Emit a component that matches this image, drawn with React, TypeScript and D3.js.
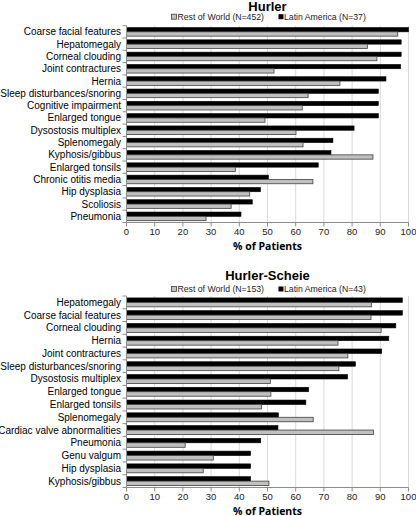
import React from 'react';
import * as d3 from 'd3';

// ---- Data ----
const hurlerCategories = [
  'Coarse facial features', 'Hepatomegaly', 'Corneal clouding', 'Joint contractures',
  'Hernia', 'Sleep disturbances/snoring', 'Cognitive impairment', 'Enlarged tongue',
  'Dysostosis multiplex', 'Splenomegaly', 'Kyphosis/gibbus', 'Enlarged tonsils',
  'Chronic otitis media', 'Hip dysplasia', 'Scoliosis', 'Pneumonia',
];
const hurlerLatinAmerica = [100, 97.4, 97.4, 97.2, 92.0, 89.3, 89.3, 89.3, 80.7, 73.2, 72.5, 68.0, 50.3, 47.5, 44.6, 40.6];
const hurlerRestOfWorld = [96.2, 85.4, 88.8, 52.3, 75.7, 64.4, 62.3, 49.1, 60.1, 62.6, 87.4, 38.6, 66.1, 43.7, 37.1, 28.2];
const hurlerLegend = ['Rest of World (N=452)', 'Latin America (N=37)'];

const hsCategories = [
  'Hepatomegaly', 'Coarse facial features', 'Corneal clouding', 'Hernia',
  'Joint contractures', 'Sleep disturbances/snoring', 'Dysostosis multiplex', 'Enlarged tongue',
  'Enlarged tonsils', 'Splenomegaly', 'Cardiac valve abnormalities', 'Pneumonia',
  'Genu valgum', 'Hip dysplasia', 'Kyphosis/gibbus',
];
const hsLatinAmerica = [97.8, 97.8, 95.5, 93.0, 90.5, 81.2, 78.4, 64.6, 63.6, 53.9, 53.7, 47.6, 44.0, 44.0, 44.0];
const hsRestOfWorld = [86.9, 86.7, 90.3, 75.0, 78.5, 75.3, 51.0, 51.2, 47.9, 66.2, 87.6, 20.8, 30.8, 27.2, 50.5];
const hsLegend = ['Rest of World (N=153)', 'Latin America (N=43)'];

const xTicks = [0, 10, 20, 30, 40, 50, 60, 70, 80, 90, 100];
const seriesKeys = ['la', 'row'];
const axisTitle = '% of Patients';

const FONT = '"Liberation Sans", Arial, sans-serif';

type PanelProps = {
  title: string;
  categories: string[];
  la: number[];
  row: number[];
  legend: string[];
  titleY: number;
  legendY: number;
  plotTop: number;
  plotBottom: number;
};

function Panel({ title, categories, la, row, legend, titleY, legendY, plotTop, plotBottom }: PanelProps) {
  const x = d3.scaleLinear().domain([0, 100]).range([126.5, 408.5]);
  const y = d3.scaleBand<string>().domain(categories).range([plotTop, plotBottom]).paddingInner(0.3).paddingOuter(0.15);
  const inner = d3.scaleBand<string>().domain(seriesKeys).range([0, y.bandwidth()]);
  const step = y.step();
  const boundaries = d3.range(categories.length + 1).map((i) => plotTop + i * step);
  const cx = (x.range()[0] + x.range()[1]) / 2;

  return (
    <g>
      <text x={cx} y={titleY} textAnchor="middle" dominantBaseline="central"
        style={{ fontFamily: FONT, fontWeight: 'bold', fontSize: 13 }} fill="#000">{title}</text>
      {/* legend */}
      <rect x={171.5} y={legendY - 2.5} width={5} height={5} fill="#c0c0c0" stroke="#404040" strokeWidth={0.8} />
      <text x={177.5} y={legendY} dominantBaseline="central" style={{ fontFamily: FONT, fontSize: 8.7 }} fill="#222">{legend[0]}</text>
      <rect x={278.5} y={legendY - 2.5} width={5} height={5} fill="#000" />
      <text x={284} y={legendY} dominantBaseline="central" style={{ fontFamily: FONT, fontSize: 8.7 }} fill="#222">{legend[1]}</text>

      {/* gridlines */}
      {xTicks.filter((t) => t > 0).map((t) => (
        <line key={'g' + t} x1={x(t)} x2={x(t)} y1={plotTop} y2={plotBottom} stroke="#d9d9d9" strokeWidth={1} />
      ))}

      {/* bars */}
      {categories.map((c, i) => (
        <g key={c}>
          <rect x={x(0)} y={(y(c) as number) + (inner('la') as number)} width={x(la[i]) - x(0)} height={inner.bandwidth()}
            fill="#000" stroke="#000" strokeWidth={0.6} />
          <rect x={x(0)} y={(y(c) as number) + (inner('row') as number)} width={x(row[i]) - x(0)} height={inner.bandwidth()}
            fill="#c0c0c0" stroke="#404040" strokeWidth={0.8} />
        </g>
      ))}

      {/* y axis */}
      <line x1={x(0)} x2={x(0)} y1={plotTop} y2={plotBottom} stroke="#8c8c8c" strokeWidth={1} />
      {boundaries.map((b, i) => (
        <line key={'yt' + i} x1={x(0) - 4} x2={x(0)} y1={b} y2={b} stroke="#8c8c8c" strokeWidth={1} />
      ))}
      {categories.map((c) => (
        <text key={'l' + c} x={121} y={(y(c) as number) + y.bandwidth() / 2} textAnchor="end" dominantBaseline="central"
          style={{ fontFamily: FONT, fontSize: 10 }} fill="#000">{c}</text>
      ))}

      {/* x axis */}
      <line x1={x(0)} x2={x(100)} y1={plotBottom} y2={plotBottom} stroke="#8c8c8c" strokeWidth={1} />
      {xTicks.map((t) => (
        <g key={'xt' + t}>
          <line x1={x(t)} x2={x(t)} y1={plotBottom} y2={plotBottom + 4} stroke="#8c8c8c" strokeWidth={1} />
          <text x={x(t)} y={plotBottom + 9} textAnchor="middle" dominantBaseline="central"
            style={{ fontFamily: FONT, fontSize: 9.5 }} fill="#222">{t}</text>
        </g>
      ))}
      <text x={cx} y={plotBottom + 23.5} textAnchor="middle" dominantBaseline="central"
        style={{ fontFamily: '"Open Sans", sans-serif', fontWeight: 'bold', fontSize: 10.5 }} fill="#000">{axisTitle}</text>
    </g>
  );
}

export default function App() {
  return (
    <svg width={416} height={516} style={{ position: 'absolute', left: 0, top: 0, background: '#fff', display: 'block' }}>
      <rect x={0} y={0} width={416} height={516} fill="#fff" />
      <Panel title="Hurler" categories={hurlerCategories} la={hurlerLatinAmerica} row={hurlerRestOfWorld}
        legend={hurlerLegend} titleY={6.5} legendY={16.7} plotTop={25.7} plotBottom={222.5} />
      <Panel title="Hurler-Scheie" categories={hsCategories} la={hsLatinAmerica} row={hsRestOfWorld}
        legend={hsLegend} titleY={275.5} legendY={289} plotTop={296} plotBottom={487.5} />
    </svg>
  );
}
